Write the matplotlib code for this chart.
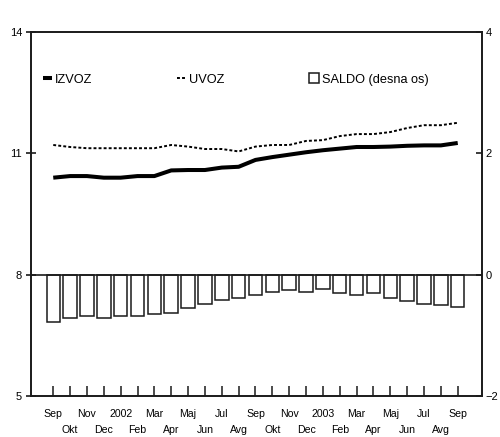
import matplotlib
matplotlib.use('Agg')
import matplotlib.pyplot as plt
from matplotlib.lines import Line2D
from matplotlib.patches import Patch

plt.rcParams['font.family'] = ['Liberation Sans', 'DejaVu Sans']

months = ['Sep', 'Okt', 'Nov', 'Dec', '2002', 'Feb', 'Mar', 'Apr', 'Maj', 'Jun',
          'Jul', 'Avg', 'Sep', 'Okt', 'Nov', 'Dec', '2003', 'Feb', 'Mar', 'Apr',
          'Maj', 'Jun', 'Jul', 'Avg', 'Sep']

izvoz = [10.40, 10.44, 10.44, 10.40, 10.40, 10.44, 10.44, 10.58, 10.59, 10.59,
         10.65, 10.67, 10.84, 10.91, 10.97, 11.03, 11.08, 11.12, 11.16, 11.16,
         11.17, 11.19, 11.20, 11.20, 11.26]

uvoz = [11.21, 11.16, 11.13, 11.13, 11.13, 11.13, 11.13, 11.21, 11.17, 11.11,
        11.11, 11.05, 11.17, 11.21, 11.21, 11.31, 11.33, 11.43, 11.48, 11.48,
        11.53, 11.63, 11.70, 11.70, 11.76]

saldo = [-0.775, -0.71, -0.68, -0.71, -0.68, -0.68, -0.655, -0.63, -0.56, -0.48,
         -0.415, -0.38, -0.33, -0.28, -0.26, -0.28, -0.235, -0.305, -0.33, -0.305,
         -0.38, -0.43, -0.48, -0.51, -0.53]

x = list(range(len(months)))
ink = '#1a1a1a'

fig = plt.figure(figsize=(5.0, 4.37), dpi=100)
ax = fig.add_axes([0.062, 0.0945, 0.902, 0.8315])
ax2 = ax.twinx()

# saldo bars on right axis
ax2.bar(x, saldo, width=0.8, facecolor='white', edgecolor=ink, linewidth=1.1, zorder=2)
ax2.set_ylim(-2, 4)
ax2.set_yticks([-2, 0, 2, 4])

ax.set_zorder(ax2.get_zorder() + 1)
ax.patch.set_visible(False)

ax.plot(x, izvoz, color='black', linewidth=2.9, solid_capstyle='butt')
ax.plot(x, uvoz, color='black', linewidth=1.4, linestyle=(0, (1.5, 1.1)))
ax.axhline(8, color=ink, linewidth=1.2)

ax.set_ylim(5, 14)
ax.set_yticks([5, 8, 11, 14])
ax.set_xlim(-1.32, 25.44)

# two rows of month labels: even months on major ticks, odd on minor
ax.set_xticks(x[0::2])
ax.set_xticklabels(months[0::2])
ax.set_xticks(x[1::2], minor=True)
ax.set_xticklabels(months[1::2], minor=True)

for a in (ax, ax2):
    for s in a.spines.values():
        s.set_color(ink)
        s.set_linewidth(1.2)

ax.tick_params(axis='y', direction='inout', length=7, width=1.2, color=ink,
               labelsize=8, pad=3)
ax2.tick_params(axis='y', direction='in', length=4.5, width=1.2, color=ink,
                labelsize=8, pad=2.8)
ax.tick_params(axis='x', which='both', direction='in', length=7, width=1.1,
               color=ink, labelsize=7.6)
ax.tick_params(axis='x', which='major', pad=9.5)
ax.tick_params(axis='x', which='minor', pad=21)

handles = [
    Line2D([0], [0], color='black', linewidth=2.9, solid_capstyle='butt'),
    Line2D([0], [0], color='black', linewidth=1.4, linestyle=(0, (1.5, 1.1))),
    Patch(facecolor='white', edgecolor=ink, linewidth=1.1),
]
ax.legend(handles, ['IZVOZ', 'UVOZ', 'SALDO (desna os)'], ncol=3, frameon=False,
          loc='center left', bbox_to_anchor=(0.0, 0.87), fontsize=9.2,
          handlelength=0.75, handleheight=0.8, handletextpad=0.2, columnspacing=6.65)

fig.savefig('out.png', dpi=100)
